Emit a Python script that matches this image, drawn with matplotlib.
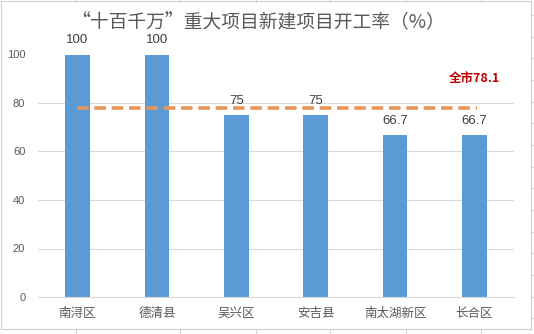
import matplotlib
matplotlib.use("Agg")
import matplotlib.pyplot as plt
from matplotlib.patches import Rectangle
from matplotlib.lines import Line2D

plt.rcParams['font.family'] = ['Noto Sans CJK SC', 'DejaVu Sans']

districts = ["南浔区", "德清县", "吴兴区", "安吉县", "南太湖新区", "长合区"]
rates = [100, 100, 75, 75, 66.7, 66.7]
city_rate = 78.1
title = "“十百千万”重大项目新建项目开工率（%）"
yticks = [0, 20, 40, 60, 80, 100]

W, H = 534, 334
fig = plt.figure(figsize=(W / 100, H / 100), dpi=100)
fig.patch.set_facecolor("white")

# spreadsheet cell lines around the chart object
cell_cols = [76, 180, 256, 330, 406, 481]
cell_rows = [15, 37, 58, 80, 102, 123, 145, 167, 188, 210, 232, 253, 275, 297, 318]
for cx in cell_cols:
    for y0, y1 in [(0, 2), (329, 334)]:
        fig.add_artist(Line2D([cx / W, cx / W], [1 - y0 / H, 1 - y1 / H],
                              transform=fig.transFigure, color="#d4d4d4", lw=0.8))
for ry in cell_rows:
    fig.add_artist(Line2D([531 / W, 1], [1 - ry / H, 1 - ry / H],
                          transform=fig.transFigure, color="#d4d4d4", lw=0.8))

# chart area frame
fig.add_artist(Rectangle((1 / W, 1 - 329 / H), 530 / W, 328 / H,
                         transform=fig.transFigure, fill=False,
                         edgecolor="#d0d0d0", lw=0.8))

ax = fig.add_axes([37.8 / W, 1 - 297 / H, 476.4 / W, 242.5 / H])
x = range(len(districts))
bars = ax.bar(x, rates, width=0.31, color="#5B9BD5", zorder=2)
ax.set_xlim(-0.5, len(districts) - 0.5)
ax.set_ylim(0, 100)
ax.set_yticks(yticks)
ax.set_xticks(list(x))
ax.set_xticklabels(districts)
ax.tick_params(axis="x", length=0, pad=7, labelsize=9, labelcolor="#595959")
ax.tick_params(axis="y", length=0, pad=9, labelsize=8, labelcolor="#595959")
for lbl in ax.get_yticklabels():
    lbl.set_family("Liberation Sans")
ax.grid(axis="y", color="#d9d9d9", lw=0.8, zorder=0)
for s in ax.spines.values():
    s.set_visible(False)
ax.spines["bottom"].set_visible(True)
ax.spines["bottom"].set_color("#d9d9d9")
ax.spines["bottom"].set_linewidth(0.8)

for xi, v in zip(x, rates):
    ax.annotate(f"{v:g}", (xi, v), xytext=(0, 6), textcoords="offset points",
                ha="center", va="bottom", fontsize=9.5, color="#404040",
                family="Liberation Sans", annotation_clip=False)

# city-wide average line
ax.plot([0, 5.03], [city_rate, city_rate], color="#E8955A", lw=2.6,
        dashes=(3.2, 1.6), zorder=3, clip_on=False)
ax.text(5.0, city_rate + 12, f"全市{city_rate}", ha="center", va="center",
        fontsize=9, fontweight="bold", color="#C00000")

fig.text(258 / W, 1 - 23 / H, title, ha="center", va="center",
         fontsize=13.5, color="#595959")

fig.savefig("out.png", dpi=100)
